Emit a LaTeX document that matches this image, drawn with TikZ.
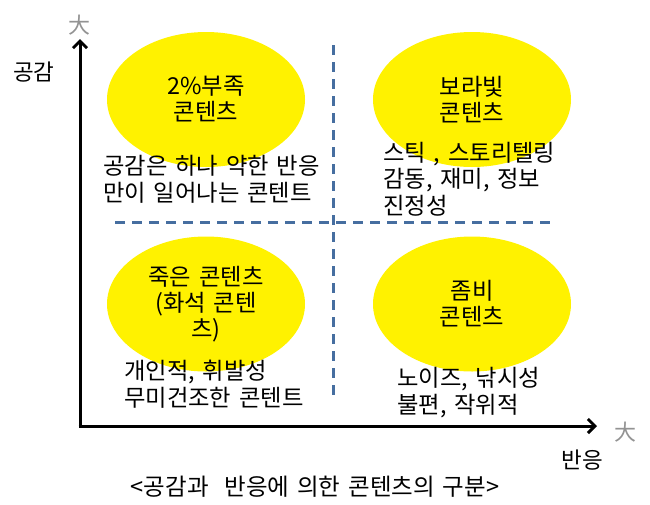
\documentclass[tikz,border=0pt]{standalone}
\usepackage{fontspec}
\setmainfont{Noto Sans CJK KR}[WordSpace=1.5]
\usetikzlibrary{arrows.meta,shapes.geometric}
\definecolor{dashblue}{RGB}{70,110,160}
\begin{document}
\begin{tikzpicture}[x=1pt,y=-1pt,
  blob/.style={ellipse, fill=yellow, minimum width=198pt, minimum height=135pt, inner sep=0pt, align=center, font=\fontsize{23.3}{26}\selectfont},
  notetext/.style={anchor=west, align=left, inner sep=0pt, font=\fontsize{23.3}{26.5}\selectfont},
  axisline/.style={line width=3pt, -{Straight Barb[length=7pt,width=14pt,line width=3pt]}},
  divider/.style={draw=dashblue, line width=3pt, dash pattern=on 10pt off 7pt},
  bigmark/.style={text=gray!85, font=\fontsize{22}{22}\selectfont, inner sep=0pt},
  label/.style={inner sep=0pt, font=\fontsize{22.5}{22.5}\selectfont}]
\useasboundingbox (0,0) rectangle (650,504);
% quadrant ellipses
\node[blob] (tl) at (206,99.5) {2\%부족\\콘텐츠};
\node[blob] (tr) at (472,99.5) {보라빛\\콘텐츠};
\node[blob] (bl) at (206,304) {죽은 콘텐츠\\(화석 콘텐\\츠)};
\node[blob] (br) at (472,304) {좀비\\콘텐츠};
% descriptions
\node[notetext] (tlt) at (103,179.5) {공감은 하나 약한 반응\\만이 일어나는 콘텐트};
\node[notetext] (trt) at (383,179) {스틱 , 스토리텔링\\감동, 재미, 정보\\진정성};
\node[notetext] (blt) at (124,384) {개인적, 휘발성\\무미건조한 콘텐트};
\node[notetext] (brt) at (397,392.5) {노이즈, 낚시성\\불편, 작위적};
% dividers
\coordinate (vt) at (333,45);
\coordinate (vb) at (333,400);
\coordinate (hl) at (115,222);
\coordinate (hr) at (551,222);
\draw[divider] (vt) -- (vb);
\draw[divider] (hl) -- (hr);
% axes
\coordinate (o) at (80,426);
\coordinate (ytip) at (80,39);
\coordinate (xtip) at (597,426);
\draw[axisline] (o) -- (ytip);
\draw[axisline] (o) -- (xtip);
\draw[line width=3pt] (o) +(-1.5,0) -- +(3,0);
% axis labels
\node[bigmark] (ybig) at (79,25) {大};
\node[bigmark] (xbig) at (625,432) {大};
\node[label] (ylab) at (34,72) {공감};
\node[label] (xlab) at (582,460) {반응};
\node[inner sep=0pt, font=\fontsize{23.5}{23.5}\selectfont] (cap) at (315,487) {<공감과\ \ 반응에 의한 콘텐츠의 구분>};
\end{tikzpicture}
\end{document}
